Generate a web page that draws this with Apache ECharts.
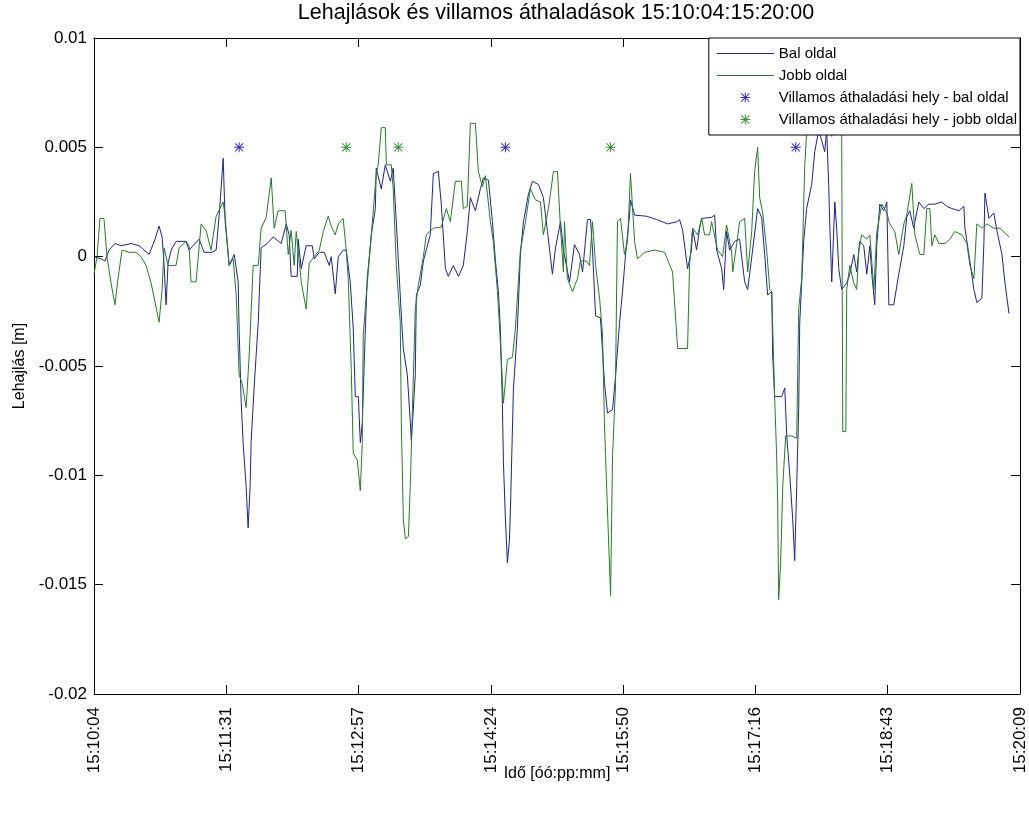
<!DOCTYPE html>
<html>
<head>
<meta charset="utf-8">
<title>Lehajlások</title>
<script src="https://cdn.jsdelivr.net/npm/echarts@6/dist/echarts.min.js"></script>
<style>
  html, body { margin: 0; padding: 0; background: #fff; }
  #chart { width: 1029px; height: 814px; }
</style>
</head>
<body>
<div id="chart"></div>
<script>
// idő: másodperc 15:10:04 óta, lehajlás: mm (a grafikonon méterben)
const balOldal = [
  [0, 0.0], [4.6, -0.1], [7.2, -0.2], [9.8, 0.3], [13.7, 0.6], [17.7, 0.5], [24.2, 0.6], [29.4, 0.5],
  [32.7, 0.3], [36.0, 0.1], [39.9, 0.8], [42.5, 1.4], [44.5, 0.9], [45.8, -0.4], [47.1, -2.2], [48.4, -0.3],
  [50.4, 0.3], [53.6, 0.7], [56.9, 0.7], [60.2, 0.7], [62.1, 0.3], [64.7, 0.5], [68.7, 0.8], [71.9, 0.2],
  [77.2, 0.2], [79.8, 0.3], [81.8, 1.9], [84.4, 4.5], [85.7, 1.6], [88.3, -0.4], [91.6, 0.1], [94.2, -1.15],
  [94.8, -3.3], [96.1, -6.5], [97.4, -8.5], [99.4, -10.5], [100.7, -12.4], [102.0, -10.5], [102.7, -8.4], [104.6, -6.0],
  [107.3, -3.0], [109.2, 0.4], [113.1, 0.6], [117.1, 0.9], [122.3, 0.6], [125.6, 1.5], [127.5, 1.0], [128.8, -0.9],
  [132.8, -0.9], [133.4, 0.8], [135.4, -0.55], [138.6, 0.5], [142.6, 0.5], [143.9, -0.1], [147.2, 0.2], [150.4, 0.2],
  [153.7, -0.4], [155.0, 0.0], [157.6, -1.7], [159.6, 0.0], [162.8, 0.3], [164.8, 0.3], [167.4, -1.15], [169.4, -3.3],
  [170.7, -6.4], [172.7, -6.4], [174.0, -8.5], [175.3, -7.6], [177.2, -3.5], [178.5, -1.0], [181.2, 1.0], [183.8, 2.2],
  [184.4, 4.05], [187.7, 3.1], [190.3, 4.2], [193.6, 3.45], [195.5, 4.05], [197.5, 1.6], [200.8, -2.7], [202.1, -4.2],
  [204.7, -5.4], [206.7, -7.6], [207.3, -8.4], [208.6, -7.0], [209.9, -5.4], [210.6, -1.75], [213.2, -1.3], [215.2, -0.2],
  [219.7, 1.0], [221.7, 3.8], [225.0, 3.9], [226.9, 2.4], [229.6, -0.55], [231.5, -0.9], [234.8, -0.4], [238.1, -0.9],
  [241.3, -0.4], [243.9, 1.15], [245.9, 2.7], [249.2, 2.1], [252.4, 3.1], [254.4, 3.6], [257.7, 3.5], [260.3, 1.6],
  [262.3, -0.2], [264.2, -1.6], [265.5, -3.3], [266.8, -6.7], [267.5, -9.4], [268.8, -12.0], [270.1, -14.0], [271.4, -13.0],
  [272.1, -11.5], [274.0, -6.1], [276.6, -3.3], [278.6, 0.1], [280.6, 1.6], [283.8, 2.85], [286.5, 3.45], [290.4, 3.3],
  [293.6, 2.7], [296.3, 1.15], [299.5, -0.8], [301.5, 0.4], [304.8, 1.6], [306.7, 0.3], [308.0, 0.3], [310.7, -1.15],
  [313.9, 0.55], [317.2, 0.1], [319.2, -0.7], [322.4, 1.7], [324.4, 1.7], [325.7, 0.3], [327.7, -2.7], [330.9, -2.8],
  [333.5, -5.75], [335.5, -7.15], [338.8, -7.0], [340.7, -5.5], [343.4, -3.0], [345.3, -1.6], [347.3, 0.1], [349.9, 1.9],
  [350.5, 2.6], [353.2, 1.9], [361.0, 1.85], [367.5, 1.7], [374.7, 1.5], [381.3, 1.6], [382.6, 1.7], [384.6, 1.2],
  [387.8, -0.55], [390.4, 0.3], [391.1, 1.3], [393.7, 0.3], [395.7, 1.3], [397.0, 1.75], [403.5, 1.8], [405.5, 1.9],
  [406.8, 0.3], [410.1, -0.55], [411.4, -1.5], [413.3, 1.15], [415.3, 0.3], [418.6, 0.7], [421.8, 0.8], [425.1, -1.15],
  [427.1, -1.5], [430.3, 0.3], [433.6, 2.2], [436.2, 1.8], [438.2, 0.1], [440.1, -1.75], [442.8, -1.6], [443.4, -4.5],
  [444.7, -6.4], [449.3, -6.4], [451.3, -6.0], [452.6, -8.2], [454.5, -9.9], [456.5, -12.0], [457.8, -13.9], [459.1, -10.5],
  [460.4, -7.0], [461.1, -3.0], [463.7, 0.7], [465.6, 2.2], [468.9, 3.3], [470.9, 4.8], [473.5, 5.8], [475.5, 5.3],
  [477.4, 4.8], [478.7, 5.8], [480.0, 3.3], [480.7, 1.5], [482.0, -1.15], [483.3, -1.15], [484.0, 2.5], [485.3, 1.2],
  [486.6, -0.55], [488.5, -1.5], [491.8, -1.2], [493.8, -0.8], [496.4, 0.1], [498.3, -0.7], [500.3, 0.7], [502.9, 0.5],
  [504.9, -0.8], [506.9, 0.5], [508.2, -0.8], [510.1, -2.2], [511.4, 0.5], [513.4, 2.4], [516.0, 2.1], [518.0, 2.5],
  [519.3, -2.2], [522.5, -2.2], [525.8, -0.8], [529.1, 0.5], [531.0, 1.8], [533.0, 2.1], [535.6, 1.3], [536.3, 1.6],
  [538.9, 2.5], [542.2, 2.2], [545.4, 2.4], [549.4, 2.4], [553.9, 2.5], [557.2, 2.3], [560.5, 2.2], [565.1, 2.1],
  [568.3, 2.3], [569.0, 1.3], [571.6, 0.1], [574.9, -1.5], [576.8, -2.1], [580.1, -1.9], [581.4, 0.6], [582.1, 2.9],
  [584.7, 1.75], [587.9, 2.0], [589.9, 1.2], [593.2, 0.1], [595.1, -1.15], [597.8, -2.6]
];

const jobbOldal = [
  [0, -0.8], [2.0, 0.0], [3.9, 1.75], [6.5, 1.75], [8.5, 0.0], [11.1, -1.2], [13.7, -2.2], [15.7, -1.0],
  [18.3, 0.3], [22.9, 0.2], [27.5, 0.2], [30.7, 0.0], [34.0, -0.4], [37.3, -1.2], [40.5, -2.3], [42.5, -3.0],
  [44.5, -1.5], [45.8, 0.4], [48.4, -0.4], [53.6, -0.4], [55.6, 0.4], [60.2, 0.7], [62.1, 0.5], [63.4, -1.15],
  [66.7, -1.15], [70.0, 1.5], [73.2, 1.2], [76.5, 0.3], [77.8, 0.3], [79.8, 1.85], [84.4, 2.5], [85.7, 1.8],
  [88.3, -0.4], [90.9, -0.1], [92.9, -1.75], [94.8, -5.4], [96.8, -5.8], [99.4, -6.9], [101.4, -4.5], [104.0, -0.4],
  [107.3, -0.4], [109.2, 1.3], [112.5, 1.8], [115.8, 3.6], [117.7, 1.3], [120.3, 2.1], [124.9, 2.1], [126.9, 0.1],
  [128.8, 1.2], [130.8, -0.4], [132.1, 1.15], [135.4, -1.15], [138.6, -2.4], [140.6, -0.3], [143.9, 0.0], [147.2, 0.3],
  [149.8, 1.15], [153.0, 1.85], [155.0, 1.4], [157.6, 1.0], [159.6, 1.5], [162.8, 1.75], [164.8, 0.3], [166.1, -1.0],
  [168.1, -5.2], [169.4, -9.0], [172.0, -9.3], [174.0, -10.7], [175.3, -8.5], [175.9, -3.6], [177.9, -1.75], [181.2, 1.0],
  [184.4, 3.8], [185.7, 4.2], [187.7, 5.9], [190.3, 5.9], [191.0, 4.2], [194.2, 4.2], [195.5, 3.1], [197.5, -0.4],
  [200.1, -3.0], [200.8, -7.6], [202.1, -12.0], [203.4, -12.9], [205.4, -12.8], [206.7, -10.4], [208.6, -5.6], [209.9, -2.4],
  [211.9, -1.3], [215.2, 0.0], [217.1, 1.0], [221.7, 1.3], [226.9, 1.35], [230.2, 2.2], [230.9, 2.2], [232.8, 1.6],
  [236.1, 3.45], [240.0, 3.45], [241.3, 2.2], [243.9, 2.3], [245.9, 6.1], [249.2, 6.1], [251.1, 3.9], [253.8, 3.2],
  [255.7, 3.7], [259.0, 1.6], [260.9, 0.7], [263.6, -1.6], [265.5, -3.9], [267.5, -6.7], [270.1, -4.7], [273.4, -4.6],
  [275.3, -3.3], [278.6, 0.3], [281.9, 1.6], [285.1, 3.1], [288.4, 2.6], [291.7, 2.5], [293.6, 1.0], [296.9, 2.2],
  [300.2, 3.9], [302.8, 3.9], [304.8, 1.3], [306.7, -0.7], [307.4, 1.6], [309.3, -1.0], [312.6, -1.6], [315.9, -1.0],
  [317.8, -0.2], [321.8, -0.2], [323.7, -0.4], [325.7, 1.6], [327.7, -0.4], [330.3, -1.9], [332.2, -3.5], [333.5, -7.6],
  [334.2, -9.1], [336.2, -13.0], [337.5, -15.5], [338.8, -9.1], [340.7, -6.0], [342.0, 1.6], [344.0, 1.75], [346.6, 0.1],
  [348.6, 0.7], [350.5, 3.8], [353.2, 0.7], [355.1, -0.1], [359.7, 0.2], [366.2, 0.3], [372.8, 0.2], [378.0, -0.7],
  [381.3, -4.2], [387.8, -4.2], [389.1, -0.4], [391.1, 1.3], [394.4, 1.0], [397.0, 1.75], [398.9, 1.0], [402.2, 1.0],
  [403.5, 1.6], [407.4, 0.3], [410.7, 0.0], [413.3, 1.45], [416.6, 0.2], [417.3, -0.7], [419.9, 0.6], [421.8, 1.6],
  [425.1, 1.75], [427.1, -0.7], [429.7, 1.15], [431.6, 3.9], [433.6, 5.0], [434.9, 2.7], [436.9, 2.0], [439.5, 0.3],
  [441.5, -1.5], [442.8, -1.6], [444.7, -6.4], [446.0, -9.1], [446.7, -11.3], [447.3, -15.7], [448.6, -14.0], [450.0, -10.5],
  [451.9, -8.2], [455.8, -8.2], [459.1, -8.3], [460.4, -2.4], [462.4, -1.0], [464.3, 4.05], [465.6, 5.7], [467.6, 7.0],
  [472.2, 6.5], [475.5, 6.8], [478.7, 6.0], [482.0, 5.5], [485.3, 6.5], [487.2, 6.2], [488.5, 5.6], [489.2, -8.0],
  [491.2, -8.0], [491.8, -1.5], [493.8, -0.4], [496.4, -1.2], [498.3, -1.5], [499.7, 0.3], [501.6, 1.0], [504.9, 0.8],
  [506.9, 1.0], [509.5, -1.5], [511.4, 1.1], [514.7, 2.4], [518.0, 2.0], [519.9, 1.5], [523.2, 1.15], [525.8, 0.1],
  [529.1, 1.5], [531.0, 1.9], [534.3, 3.35], [536.3, 1.0], [539.6, 0.1], [542.2, 0.1], [544.1, 2.2], [546.1, 2.2],
  [547.4, 0.5], [549.4, 1.0], [552.0, 0.6], [555.9, 0.6], [559.2, 0.8], [562.4, 1.15], [567.0, 1.0], [570.3, 0.6],
  [572.3, -0.4], [574.9, -1.0], [576.8, 1.5], [580.1, 1.3], [583.4, 1.5], [587.9, 1.3], [591.9, 1.3], [597.8, 0.9]
];

// villamos áthaladások (mp) - jelölő a 0.005 m szinten
const balAthaladas = [94.8, 268.8, 458.5];
const jobbAthaladas = [164.8, 198.8, 337.5];
const jelSzint = 0.005;

const tickLabels = ['15:10:04', '15:11:31', '15:12:57', '15:14:24', '15:15:50', '15:17:16', '15:18:43', '15:20:09'];
const idoMax = 605;
const tickStep = idoMax / 7;

const csillag = 'path://M0,4.5L10,4.5L10,5.5L0,5.5Z M4.5,0L5.5,0L5.5,10L4.5,10Z M1.3,0.6L9.4,8.7L8.7,9.4L0.6,1.3Z M8.7,0.6L9.4,1.3L1.3,9.4L0.6,8.7Z';
const vonalIkon = 'path://M0,0L59,0L59,1L0,1Z';

const kek = '#1f1fa0';
const zold = '#1e821e';
const font = 'Liberation Sans';

const chart = echarts.init(document.getElementById('chart'));

const mToM = (arr) => arr.map(p => [p[0], p[1] / 1000]);

// keret tengelyek (MATLAB box on)
const keretX = {
  type: 'value',
  min: 0,
  max: idoMax,
  interval: tickStep,
  axisLine: { show: true, onZero: false, lineStyle: { color: '#000', width: 1 } },
  axisTick: { show: true, inside: true, length: 9, lineStyle: { color: '#000' } },
  splitLine: { show: false }
};
const keretY = {
  type: 'value',
  min: -0.02,
  max: 0.01,
  interval: 0.005,
  axisLine: { show: true, onZero: false, lineStyle: { color: '#000', width: 1 } },
  axisTick: { show: true, inside: true, length: 9, lineStyle: { color: '#000' } },
  splitLine: { show: false }
};

let option = {
  animation: false,
  backgroundColor: '#fff',
  title: {
    text: 'Lehajlások és villamos áthaladások 15:10:04:15:20:00',
    left: 551,
    top: 0,
    padding: [2, 5],
    textAlign: 'center',
    textStyle: { fontFamily: font, fontSize: 21.5, fontWeight: 'normal', color: '#000' }
  },
  legend: {
    right: 9,
    top: 38,
    orient: 'vertical',
    align: 'left',
    backgroundColor: '#fff',
    borderColor: '#000',
    borderWidth: 1,
    padding: [8, 3, 8, 8],
    itemGap: 7,
    itemWidth: 57,
    itemHeight: 10,
    itemTextGap: 3,
    textStyle: { fontFamily: font, fontSize: 15, color: '#000' },
    data: [
      { name: 'Bal oldal', icon: vonalIkon },
      { name: 'Jobb oldal', icon: vonalIkon },
      { name: 'Villamos áthaladási hely - bal oldal', icon: csillag },
      { name: 'Villamos áthaladási hely - jobb oldal', icon: csillag }
    ]
  },
  grid: { left: 94, right: 9, top: 38, bottom: 120, containLabel: false },
  xAxis: [
    Object.assign({}, keretX, {
      position: 'bottom',
      name: 'Idő [óó:pp:mm]',
      nameLocation: 'middle',
      nameGap: 72,
      nameMoveOverlap: false,
      nameTextStyle: { fontFamily: font, fontSize: 16, color: '#000' },
      axisLabel: {
        rotate: 90,
        margin: 13,
        fontFamily: font,
        fontSize: 17,
        color: '#000',
        showMinLabel: true,
        showMaxLabel: true,
        formatter: (v) => tickLabels[Math.round(v / tickStep)] || ''
      }
    }),
    Object.assign({}, keretX, { position: 'top', axisLabel: { show: false } })
  ],
  yAxis: [
    Object.assign({}, keretY, {
      position: 'left',
      name: 'Lehajlás [m]',
      nameLocation: 'middle',
      nameGap: 66,
      nameMoveOverlap: false,
      nameTextStyle: { fontFamily: font, fontSize: 16, color: '#000' },
      axisLabel: {
        margin: 7,
        fontFamily: font,
        fontSize: 17,
        color: '#000',
        formatter: (v) => String(+v.toFixed(3))
      }
    }),
    Object.assign({}, keretY, { position: 'right', axisLabel: { show: false } })
  ],
  series: [
    {
      name: 'Bal oldal',
      type: 'line',
      symbol: 'none',
      color: kek,
      lineStyle: { width: 1, color: kek },
      data: mToM(balOldal)
    },
    {
      name: 'Jobb oldal',
      type: 'line',
      symbol: 'none',
      color: zold,
      lineStyle: { width: 1, color: zold },
      data: mToM(jobbOldal)
    },
    {
      name: 'Villamos áthaladási hely - bal oldal',
      type: 'scatter',
      symbol: csillag,
      symbolSize: 10,
      color: '#0000e0',
      itemStyle: { color: '#0000e0' },
      data: balAthaladas.map(t => [t, jelSzint])
    },
    {
      name: 'Villamos áthaladási hely - jobb oldal',
      type: 'scatter',
      symbol: csillag,
      symbolSize: 10,
      color: '#008000',
      itemStyle: { color: '#008000' },
      data: jobbAthaladas.map(t => [t, jelSzint])
    }
  ]
};

chart.setOption(option);
</script>
</body>
</html>
